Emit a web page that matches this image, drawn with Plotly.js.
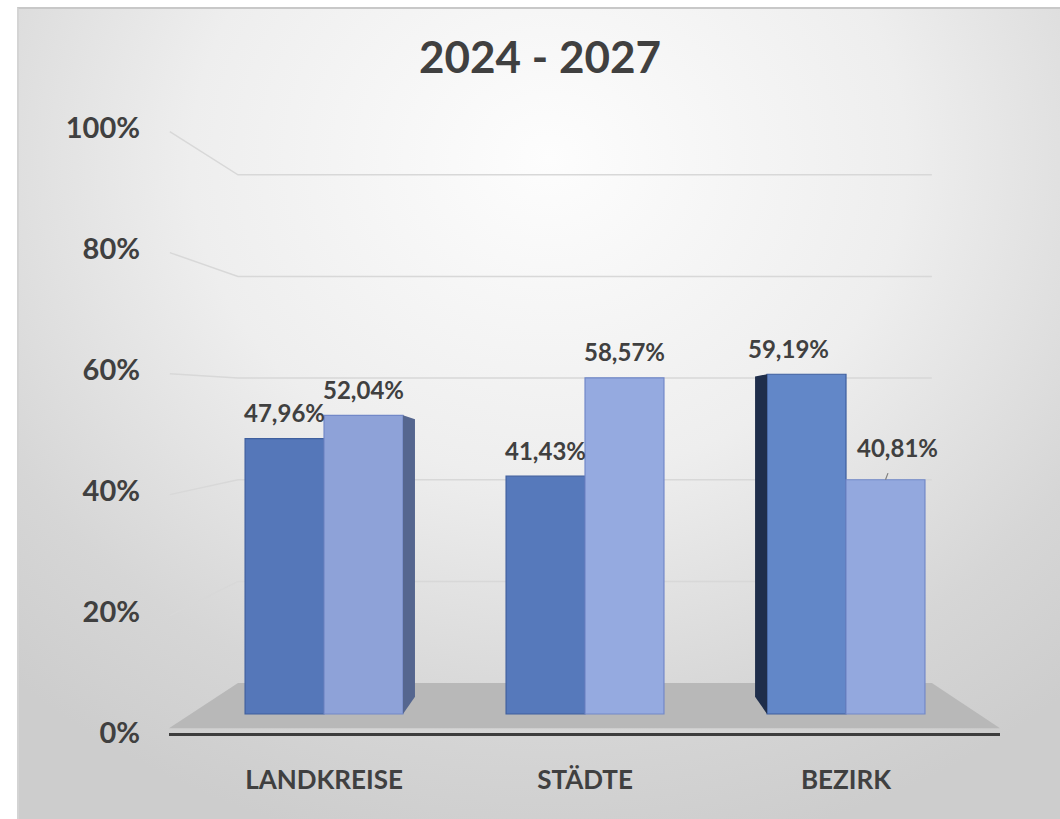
<!DOCTYPE html>
<html>
<head>
<meta charset="utf-8">
<script src="https://cdn.plot.ly/plotly-3.0.1.min.js"></script>
<style>
  html, body { margin: 0; padding: 0; background: #ffffff; }
  #frame {
    position: absolute; left: 17px; top: 7px; width: 1060px; height: 830px;
    border-top: 2px solid #c8c8c8; border-left: 2px solid #d4d4d4;
    background: radial-gradient(ellipse 75% 85% at 50% 18%, #fdfdfd 0%, #eeeeee 45%, #d6d6d6 80%, #cdcdcd 100%);
  }
  #chart { position: absolute; left: 0; top: 0; width: 1060px; height: 819px; }
</style>
</head>
<body>
<div id="frame"></div>
<div id="chart"></div>
<script>
// ---- data ----
const categories = ["LANDKREISE", "STÄDTE", "BEZIRK"];
const series1 = [47.96, 41.43, 59.19];   // dark blue
const series2 = [52.04, 58.57, 40.81];   // light blue
const yTicks = [0, 20, 40, 60, 80, 100];
const titleText = "2024 - 2027";

const FONT = "Lato, 'Open Sans', sans-serif";
const TXT = "#404040";
const fmt = v => v.toFixed(2).replace(".", ",") + "%";

const bargap = 0.395;
const barW = (1 - bargap) / 2;        // width of one bar in category units
const halfOffset = barW / 2;          // center offset of each bar in a group of two

const traces = [
  {
    type: "bar", x: categories.map((c, i) => i), y: series1,
    marker: { color: ["#5577B9", "#5679BB", "#6287C8"], line: { color: "#3f5f9e", width: 1.2 } },
    hoverinfo: "skip", xaxis: "x", yaxis: "y"
  },
  {
    type: "bar", x: categories.map((c, i) => i), y: series2,
    marker: { color: ["#8EA2D8", "#95AAE0", "#93A8DE"], line: { color: "#7288c8", width: 1.2 } },
    hoverinfo: "skip", xaxis: "x", yaxis: "y"
  }
];

// data labels
const annotations = [];
[series1, series2].forEach((s, k) => {
  s.forEach((v, i) => {
    const isLeader = (k === 1 && i === 2);
    annotations.push({
      x: i + (k === 0 ? -halfOffset : halfOffset), y: v, xref: "x", yref: "y",
      text: fmt(v), showarrow: true, arrowhead: 0, arrowwidth: 1.2,
      arrowcolor: isLeader ? "#808080" : "rgba(0,0,0,0)",
      ax: isLeader ? 12 : (k === 0 && i === 2 ? -18 : 0), ay: isLeader ? -32 : -26,
      standoff: 0, startstandoff: isLeader ? 10 : 0,
      font: { family: FONT, size: 24, color: TXT, weight: 700 }
    });
  });
});

// 3D-like back gridlines and floor (decoration)
const shapes = [];
yTicks.slice(1).forEach(t => {
  const backVal = 8.26 + 0.84 * t;   // projection of the tick level onto the back wall (in y2 units)
  shapes.push({
    type: "path", xref: "paper", yref: "y2", layer: "below",
    path: `M 0.001,${t - 0.6} L 0.083,${backVal} L 0.918,${backVal}`,
    line: { color: "#d8d8d8", width: 1.5 }
  });
});
shapes.push({
  type: "path", xref: "paper", yref: "paper", layer: "below",
  path: "M 0.083,0.0826 L 0.918,0.0826 L 1,0.008 L 0,0.008 Z",
  fillcolor: "#b8b8b8", line: { width: 0 }
});

// visible side faces of the outer bars (perspective), derived from the bar values
// right side of the first light bar
shapes.push({
  type: "path", xref: "x", yref: "y", xsizemode: "pixel", xanchor: 0 + barW,
  layer: "above",
  path: `M 0,${series2[0]} L 12,${series2[0] - 0.7} L 12,3 L 0,0 Z`,
  fillcolor: "#55668f", line: { width: 0 }
});
// left side of the last dark bar
shapes.push({
  type: "path", xref: "x", yref: "y", xsizemode: "pixel", xanchor: 2 - barW,
  layer: "above",
  path: `M 0,${series1[2]} L -12,${series1[2] - 0.4} L -12,3 L 0,0 Z`,
  fillcolor: "#1f2e4b", line: { width: 0 }
});

const layout = {
  width: 1060, height: 819,
  paper_bgcolor: "rgba(0,0,0,0)", plot_bgcolor: "rgba(0,0,0,0)",
  margin: { l: 169, r: 60, t: 128, b: 86 },
  showlegend: false,
  barmode: "group", bargap: bargap, bargroupgap: 0,
  title: {
    text: titleText, x: 540 / 1060, xanchor: "center", y: 1 - 58 / 819, yanchor: "middle", yref: "container",
    font: { family: FONT, size: 44, color: TXT, weight: 700 }
  },
  xaxis: {
    range: [-0.594, 2.59], tickmode: "array",
    tickvals: categories.map((c, i) => i), ticktext: categories,
    showgrid: false, zeroline: false,
    showline: true, linecolor: "#3d3d3d", linewidth: 3,
    ticks: "", ticklabelstandoff: 22,
    tickfont: { family: FONT, size: 26, color: TXT, weight: 700 },
    fixedrange: true
  },
  yaxis: {
    range: [-3.31, 102.09], showgrid: false, zeroline: false,
    showticklabels: false, showline: false, ticks: "", fixedrange: true
  },
  yaxis2: {
    range: [0, 100], overlaying: "y", side: "left", anchor: "x",
    tickmode: "array", tickvals: yTicks, ticktext: yTicks.map(t => t + "%"),
    showgrid: false, zeroline: false, showline: false, ticks: "",
    ticklabelstandoff: 28,
    tickfont: { family: FONT, size: 29, color: TXT, weight: 700 },
    fixedrange: true
  },
  shapes: shapes,
  annotations: annotations
};

Plotly.newPlot("chart", traces, layout, { displayModeBar: false, staticPlot: true });
</script>
</body>
</html>
